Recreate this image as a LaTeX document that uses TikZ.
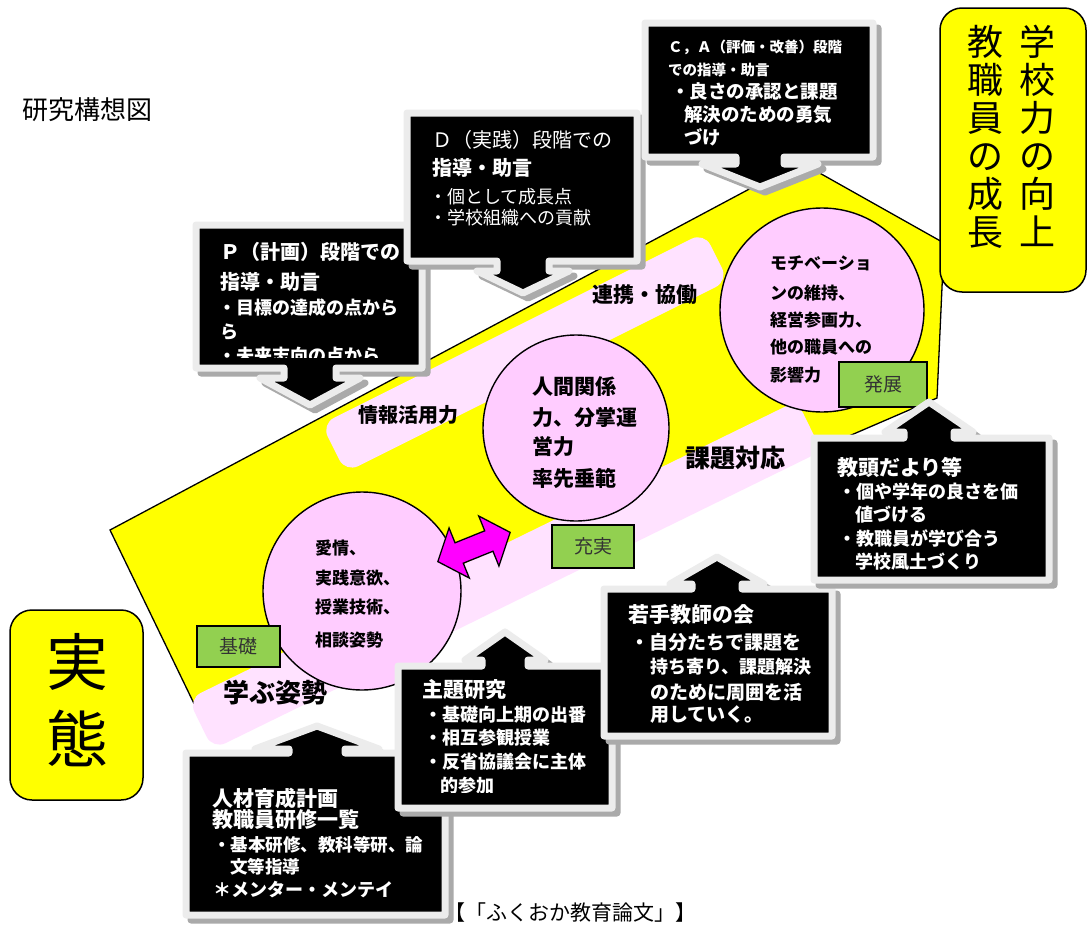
\documentclass[tikz,border=0pt]{standalone}
\usepackage{fontspec}
\setmainfont{Noto Sans CJK JP}
\newcommand\myfs[1]{\fontsize{#1}{#1}\selectfont}
\definecolor{bandc}{RGB}{255,255,0}
\definecolor{stripc}{RGB}{255,226,255}
\definecolor{circc}{RGB}{255,204,255}
\definecolor{greenc}{RGB}{146,208,80}
\definecolor{cborder}{RGB}{236,236,236}
\definecolor{cshadow}{RGB}{170,170,170}
\definecolor{magc}{RGB}{255,0,255}
\newcommand\downcall[9]{%
  \draw[cshadow, fill=cshadow, line width=7, line join=round, xshift=5pt, yshift=-5pt]
    (#1,#2) -- (#3,#2) -- (#3,#4) -- ({#5+#6},#4) -- ({#5+#6},#7) -- ({#5+#8},#7) -- (#5,#9)
    -- ({#5-#8},#7) -- ({#5-#6},#7) -- ({#5-#6},#4) -- (#1,#4) -- cycle;
  \draw[callout]
    (#1,#2) -- (#3,#2) -- (#3,#4) -- ({#5+#6},#4) -- ({#5+#6},#7) -- ({#5+#8},#7) -- (#5,#9)
    -- ({#5-#8},#7) -- ({#5-#6},#7) -- ({#5-#6},#4) -- (#1,#4) -- cycle;}
\newcommand\upcall[9]{%
  \draw[cshadow, fill=cshadow, line width=7, line join=round, xshift=5pt, yshift=-5pt]
    (#1,#2) -- ({#5-#6},#2) -- ({#5-#6},#7) -- ({#5-#8},#7) -- (#5,#9) -- ({#5+#8},#7)
    -- ({#5+#6},#7) -- ({#5+#6},#2) -- (#3,#2) -- (#3,#4) -- (#1,#4) -- cycle;
  \draw[callout]
    (#1,#2) -- ({#5-#6},#2) -- ({#5-#6},#7) -- ({#5-#8},#7) -- (#5,#9) -- ({#5+#8},#7)
    -- ({#5+#6},#7) -- ({#5+#6},#2) -- (#3,#2) -- (#3,#4) -- (#1,#4) -- cycle;}
\tikzset{
  band/.style={fill=bandc, draw=black, line width=1.3},
  strip/.style={fill=stripc, rounded corners=14},
  circ/.style={circle, fill=circc, draw=black, line width=1.4, inner sep=0},
  gbox/.style={fill=greenc, draw=black, line width=1.4},
  gtext/.style={text=black!80, font=\myfs{19}, inner sep=0},
  callout/.style={fill=black, draw=cborder, line width=7, line join=round},
  wt/.style={anchor=west, inner sep=0, text=white, font=\myfs{#1}\bfseries},
  wr/.style={anchor=west, inner sep=0, text=white, font=\myfs{#1}},
  bt/.style={anchor=west, inner sep=0, text=black, font=\myfs{#1}\bfseries},
  st/.style={inner sep=0, text=black, font=\myfs{#1}\bfseries},
  ybox/.style={fill=bandc, draw=black, line width=1.5, rounded corners=22},
  vt/.style={inner sep=0, align=center, font=\myfs{#1}},
}
\begin{document}
\begin{tikzpicture}[x=1pt,y=-1pt]
\useasboundingbox (0,0) rectangle (1089,926);
\fill[white] (0,0) rectangle (1089,926);

\node[anchor=west, inner sep=0, font=\myfs{26}] (title) at (22,110) {研究構想図};

% footer (partly hidden by callout)
\node[anchor=east, inner sep=0, font=\myfs{21}] (foot) at (697,913) {【「ふくおか教育論文」】};

% yellow band
\draw[band] (110,530) -- (800,162) -- (944,243) -- (937,398) -- (200,716) -- cycle;

% pink strips
\begin{scope}[shift={(338,446)}, rotate=26.6]
  \fill[strip] (-5,-27) rectangle (423,27);
\end{scope}
\begin{scope}[shift={(205,722)}, rotate=26.1]
  \fill[strip] (-5,-28) rectangle (673,28);
\end{scope}
\node[st=20] (s-joho) at (408,415) {情報活用力};
\node[st=21] (s-renkei) at (645,295) {連携・協働};
\node[st=25] (s-kadai) at (735,458) {課題対応};
\node[st=26] (s-manabu) at (275,693) {学ぶ姿勢};

% circles
\node[circ, minimum size=198] (c1) at (362,591) {};
\node[circ, minimum size=186] (c2) at (576,428) {};
\node[circ, minimum size=204] (c3) at (822,310) {};

\node[bt=17] (c1a) at (315,548) {愛情、};
\node[bt=17] (c1b) at (315,578) {実践意欲、};
\node[bt=17] (c1c) at (315,607) {授業技術、};
\node[bt=17] (c1d) at (315,640) {相談姿勢};

\node[bt=21] (c2a) at (532,387) {人間関係};
\node[bt=21] (c2b) at (532,417) {力、分掌運};
\node[bt=21] (c2c) at (532,447) {営力};
\node[bt=21] (c2d) at (532,478) {率先垂範};

\node[bt=17] (c3a) at (770,263) {モチベーショ};
\node[bt=17] (c3b) at (770,293) {ンの維持、};
\node[bt=17] (c3c) at (770,320) {経営参画力、};
\node[bt=17] (c3d) at (770,347) {他の職員への};
\node[bt=17] (c3e) at (770,375) {影響力};

% magenta double arrow
\begin{scope}[shift={(474,547)}, rotate=22]
  \draw[fill=magc, draw=black, line width=1.3, line join=miter]
    (-39,0) -- (-16,27) -- (-16,11) -- (16,11) -- (16,27) -- (39,0)
    -- (16,-27) -- (16,-11) -- (-16,-11) -- (-16,-27) -- cycle;
\end{scope}

% green boxes
\draw[gbox] (197,626) rectangle (280,667);
\node[gtext] (kiso) at (238.5,646.5) {基礎};
\draw[gbox] (552,525) rectangle (634,568);
\node[gtext] (juji) at (593,546.5) {充実};
\draw[gbox] (839,362) rectangle (927,407);
\node[gtext] (hatten) at (883,384.5) {発展};

% top callouts
\downcall{196}{225}{422}{368}{310}{26}{378}{50}{405}
\begin{scope}
  \clip (196,225) rectangle (422,357);
  \node[wt=20] (p1) at (220,252) {Ｐ（計画）段階での};
  \node[wt=20] (p2) at (220,282) {指導・助言};
  \node[wt=18] (p3) at (218,308) {・目標の達成の点から};
  \node[wt=18] (p4) at (220,332) {ら};
  \node[wt=18] (p5) at (218,356) {・未来志向の点から};
\end{scope}

\downcall{407}{113}{637}{261}{523}{26}{271}{46}{293}
\node[wr=20] (d1) at (432,140) {Ｄ（実践）段階での};
\node[wt=20] (d2) at (432,168) {指導・助言};
\node[wr=18] (d3) at (429,197) {・個として成長点};
\node[wr=18] (d4) at (429,218) {・学校組織への貢献};

\downcall{645}{23}{873}{157}{760}{24}{164}{58}{187}
\node[wt=14.5] (ca1) at (668,47) {Ｃ，Ａ（評価・改善）段階};
\node[wt=14.5] (ca2) at (668,70) {での指導・助言};
\node[wt=18.5] (ca3) at (671,92) {・良さの承認と課題};
\node[wt=18.5] (ca4) at (684,115) {解決のための勇気};
\node[wt=18.5] (ca5) at (684,137) {づけ};

% bottom callouts
\upcall{186}{753}{445}{915}{317}{28}{749}{62}{726}
\node[wt=21] (j1) at (212,798) {人材育成計画};
\node[wt=21] (j2) at (212,820) {教職員研修一覧};
\node[wt=17.5] (j3) at (213,845) {・基本研修、教科等研、論};
\node[wt=17.5] (j4) at (230,867) {文等指導};
\node[wt=18] (j5) at (213,890) {＊メンター・メンテイ};

\upcall{398}{666}{612}{808}{505}{23}{660}{40}{632}
\begin{scope}
  \clip (398,666) rectangle (612,792);
  \node[wt=21] (s1) at (422,690) {主題研究};
  \node[wt=18] (s2) at (424,715) {・基礎向上期の出番};
  \node[wt=18] (s3) at (424,738) {・相互参観授業};
  \node[wt=18] (s4) at (424,762) {・反省協議会に主体};
  \node[wt=18] (s5) at (440,786) {的参加};
\end{scope}

\upcall{604}{589}{832}{736}{717}{25}{584}{47}{557}
\node[wt=21] (w1) at (628,615) {若手教師の会};
\node[wt=19] (w2) at (630,642) {・自分たちで課題を};
\node[wt=18] (w3) at (650,667) {持ち寄り、課題解決};
\node[wt=19] (w4) at (650,692) {のために周囲を活};
\node[wt=19] (w5) at (650,715) {用していく。};

\upcall{814}{438}{1049}{580}{929}{25}{432}{44}{402}
\node[wt=21] (k1) at (837,467) {教頭だより等};
\node[wt=18] (k2) at (838,492) {・個や学年の良さを価};
\node[wt=18] (k3) at (855,515) {値づける};
\node[wt=18] (k4) at (838,538) {・教職員が学び合う};
\node[wt=18] (k5) at (855,562) {学校風土づくり};

% side boxes
\draw[ybox] (10,610) rectangle (143,800);
\node[vt=62] (jittai1) at (77,662) {実};
\node[vt=62] (jittai2) at (77,738) {態};

\draw[ybox] (940,8) rectangle (1086,292);
\node[vt=36, anchor=north] (right1) at (1037,25) {学\\[2pt]校\\[2pt]力\\[2pt]の\\[2pt]向\\[2pt]上};
\node[vt=36, anchor=north] (right2) at (985,25) {教\\[2pt]職\\[2pt]員\\[2pt]の\\[2pt]成\\[2pt]長};
\end{tikzpicture}
\end{document}
